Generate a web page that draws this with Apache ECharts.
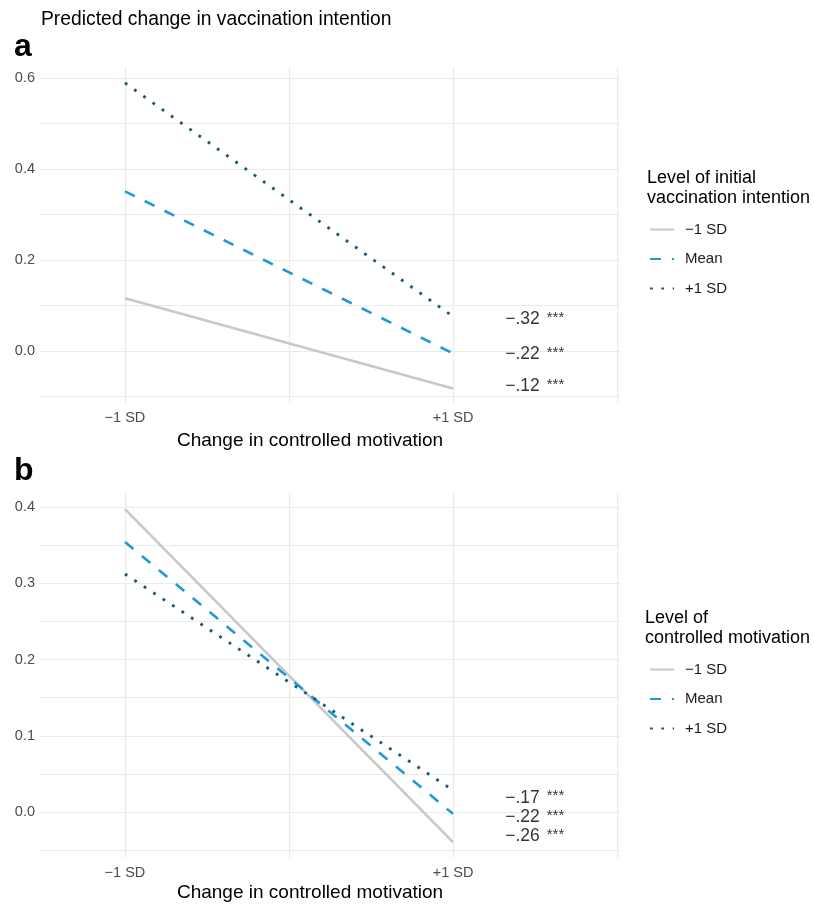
<!DOCTYPE html>
<html>
<head>
<meta charset="utf-8">
<script src="https://cdn.jsdelivr.net/npm/echarts@6/dist/echarts.min.js"></script>
<style>
  html, body { margin: 0; padding: 0; background: #fff; }
  #chart { width: 814px; height: 905px; }
</style>
</head>
<body>
<div id="chart"></div>
<script>
// ---- data ----
const xTickValues = [-1, 1];
const xTickLabels = ['\u22121 SD', '+1 SD'];
const xGridValues = [-1, 0, 1, 2];
const seriesNames = ['\u22121 SD', 'Mean', '+1 SD'];

const aLow = [0.116, -0.082];
const aMean = [0.351, -0.005];
const aHigh = [0.589, 0.076];

const bLow = [0.397, -0.039];
const bMean = [0.354, -0.002];
const bHigh = [0.312, 0.029];

const aSlopeLabels = ['\u2212.32', '\u2212.22', '\u2212.12'];
const aSlopeY = [0.070, -0.007, -0.077];
const bSlopeLabels = ['\u2212.17', '\u2212.22', '\u2212.26'];
const bSlopeY = [0.019, -0.006, -0.031];
const slopeX = 1.315;

const aYTicks = [0, 0.2, 0.4, 0.6];
const aYGrid = [-0.1, 0, 0.1, 0.2, 0.3, 0.4, 0.5, 0.6];
const bYTicks = [0, 0.1, 0.2, 0.3, 0.4];
const bYGrid = [-0.05, 0, 0.05, 0.1, 0.15, 0.2, 0.25, 0.3, 0.35, 0.4];

// ---- styles ----
const FONT = '"Liberation Sans", Arial, Helvetica, sans-serif';
const GRID_COLOR = '#ebebeb';
const styles = [
  { color: '#c8c8c8', width: 2.6, type: 'solid' },
  { color: '#1e9bd6', width: 2.6, type: [11, 11] },
  { color: '#1b5a7b', width: 2.9, type: [2.8, 8.5] }
];

function makeX(idx, gap) {
  return {
    type: 'value', gridIndex: idx, min: -1.518, max: 2.018,
    axisLine: { show: false },
    axisTick: { show: false, customValues: xGridValues },
    axisLabel: {
      customValues: xTickValues, margin: 7, color: '#4d4d4d', fontSize: 14.5, fontFamily: FONT,
      formatter: v => xTickLabels[xTickValues.indexOf(Math.round(v))]
    },
    splitLine: { show: true, lineStyle: { color: GRID_COLOR, width: 1.2 } },
    name: 'Change in controlled motivation', nameLocation: 'middle', nameGap: gap,
    nameTextStyle: { fontSize: 19, color: '#000', fontFamily: FONT, padding: [0, 40, 0, 0] }
  };
}
function makeY(idx, min, max, ticks, grid) {
  return {
    type: 'value', gridIndex: idx, min: min, max: max,
    axisLine: { show: false },
    axisTick: { show: false, customValues: grid },
    axisLabel: {
      customValues: ticks, margin: 5, color: '#4d4d4d', fontSize: 14.5, fontFamily: FONT,
      formatter: v => v.toFixed(1)
    },
    splitLine: { show: true, lineStyle: { color: GRID_COLOR, width: 1.2 } }
  };
}
function lineSeries(idx, name, vals, st) {
  return {
    type: 'line', name: name, xAxisIndex: idx, yAxisIndex: idx,
    data: xTickValues.map((x, i) => [x, vals[i]]),
    symbol: 'none', silent: true,
    lineStyle: { color: st.color, width: st.width, type: st.type, cap: 'butt' },
    itemStyle: { color: st.color }
  };
}
function slopeSeries(idx, labels, ys) {
  return {
    type: 'scatter', xAxisIndex: idx, yAxisIndex: idx, silent: true,
    symbolSize: 1, itemStyle: { color: 'rgba(0,0,0,0)' },
    data: ys.map((y, i) => ({ value: [slopeX, y], name: labels[i] })),
    label: {
      show: true, position: 'right', distance: 0,
      formatter: p => '{v|' + p.name + '}{s|***}',
      rich: {
        v: { fontSize: 17.5, color: '#000', fontFamily: FONT },
        s: { fontSize: 15, color: '#000', fontFamily: FONT, verticalAlign: 'top', padding: [0, 0, 0, 7] }
      }
    }
  };
}
function makeLegend(top) {
  return {
    orient: 'vertical', left: 649, top: top, padding: 0,
    itemWidth: 24, itemHeight: 14, itemGap: 14.5,
    selectedMode: false, data: seriesNames,
    itemStyle: { opacity: 0 },
    textStyle: { fontSize: 15, color: '#1a1a1a', fontFamily: FONT, padding: [0, 0, 0, 6] }
  };
}

const option = {
  animation: false,
  backgroundColor: '#fff',
  grid: [
    { left: 40, top: 67, width: 580, height: 336, outerBoundsMode: 'none' },
    { left: 40, top: 493, width: 580, height: 365, outerBoundsMode: 'none' }
  ],
  xAxis: [makeX(0, 28), makeX(1, 25)],
  yAxis: [
    makeY(0, -0.114, 0.624, aYTicks, aYGrid),
    makeY(1, -0.0598, 0.418, bYTicks, bYGrid)
  ],
  legend: [makeLegend(222), makeLegend(662)],
  graphic: [
    { type: 'text', left: 41, top: 10, style: { text: 'Predicted change in vaccination intention', font: '19.3px ' + FONT, fill: '#000' } },
    { type: 'text', left: 14, top: 31, style: { text: 'a', font: 'bold 32px ' + FONT, fill: '#000' } },
    { type: 'text', left: 14, top: 455, style: { text: 'b', font: 'bold 32px ' + FONT, fill: '#000' } },
    { type: 'text', left: 647, top: 168, style: { text: 'Level of initial\nvaccination intention', font: '18px ' + FONT, lineHeight: 20, fill: '#000' } },
    { type: 'text', left: 645, top: 608, style: { text: 'Level of\ncontrolled motivation', font: '18px ' + FONT, lineHeight: 20, fill: '#000' } }
  ],
  series: [
    lineSeries(0, seriesNames[0], aLow, styles[0]),
    lineSeries(0, seriesNames[1], aMean, styles[1]),
    lineSeries(0, seriesNames[2], aHigh, styles[2]),
    slopeSeries(0, aSlopeLabels, aSlopeY),
    lineSeries(1, seriesNames[0], bLow, styles[0]),
    lineSeries(1, seriesNames[1], bMean, styles[1]),
    lineSeries(1, seriesNames[2], bHigh, styles[2]),
    slopeSeries(1, bSlopeLabels, bSlopeY)
  ]
};

const chart = echarts.init(document.getElementById('chart'), null, { renderer: 'canvas' });
chart.setOption(option);
</script>
</body>
</html>
